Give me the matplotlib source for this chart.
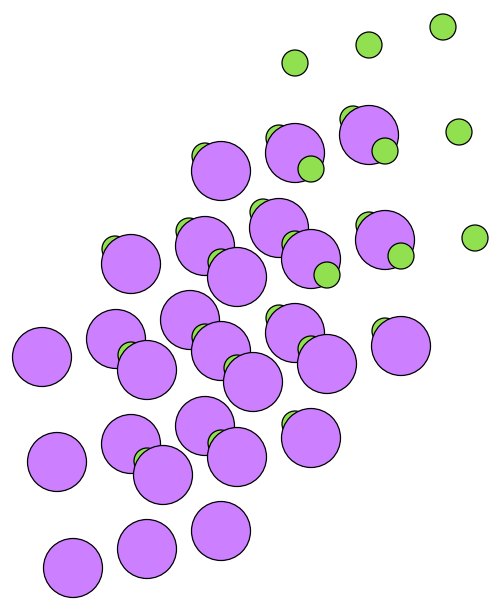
import numpy as np
import matplotlib
matplotlib.use("Agg")
import matplotlib.pyplot as plt

# Large purple atoms (pixel-space data)
purple_x = [221, 295, 369, 131, 205, 279, 237, 311, 385,
            42, 116, 190, 147, 221, 295, 253, 327, 401,
            57, 131, 205, 163, 237, 311, 73, 147, 221]
purple_y = [171, 153, 135, 264, 246, 228, 277, 259, 240,
            357, 339, 320, 370, 351, 333, 382, 364, 346,
            462, 444, 426, 475, 457, 438, 568, 549, 531]

# Small green atoms
green_x = [295, 369, 443, 311, 385, 459, 327, 401, 475,
           205, 279, 353, 221, 295, 369, 237, 311, 385,
           115, 189, 263, 131, 205, 279, 147, 221, 295]
green_y = [63, 45, 27, 169, 151, 132, 275, 256, 238,
           156, 138, 119, 262, 244, 225, 368, 349, 331,
           249, 231, 212, 355, 337, 318, 461, 443, 424]

purple_color = "#cc80ff"
green_color = "#90e050"

W, H, DPI = 500, 612, 100
fig = plt.figure(figsize=(W / DPI, H / DPI), dpi=DPI)
ax = fig.add_axes([0, 0, 1, 1])
ax.set_xlim(0, W)
ax.set_ylim(H, 0)
ax.axis("off")

px2pt = 72.0 / DPI
s_purple = (59 * px2pt) ** 2
s_green = (26 * px2pt) ** 2

xs = np.array(purple_x + green_x, dtype=float)
ys = np.array(purple_y + green_y, dtype=float)
cols = [purple_color] * len(purple_x) + [green_color] * len(green_x)
sizes = np.array([s_purple] * len(purple_x) + [s_green] * len(green_x))

# depth ordering: items lower-right are in front
order = np.argsort(xs + ys, kind="stable")
ax.scatter(xs[order], ys[order], s=sizes[order],
           c=[cols[i] for i in order], edgecolors="black", linewidths=0.9)

fig.savefig("out.png", dpi=DPI)
